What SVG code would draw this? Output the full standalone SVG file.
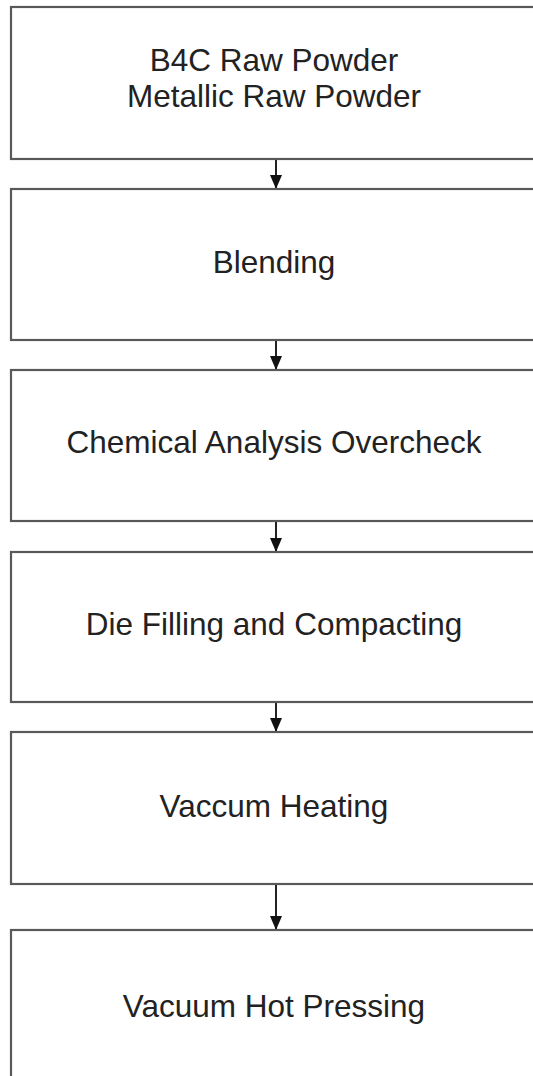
<svg xmlns="http://www.w3.org/2000/svg" width="533" height="1076" viewBox="0 0 533 1076">
<defs>
<style>
.box{fill:#fff;stroke:#595959;stroke-width:2.2}
.lbl{font-family:"Liberation Sans",Arial,sans-serif;font-size:31.5px;fill:#222;text-anchor:middle}
.conn{stroke:#222;stroke-width:2;fill:none}
</style>
<marker id="arr" viewBox="0 0 14 12" markerWidth="14" markerHeight="12" refX="14" refY="6" orient="auto" markerUnits="userSpaceOnUse">
<path d="M0,0 L14,6 L0,12 z" fill="#111"/>
</marker>
</defs>
<rect width="533" height="1076" fill="#fff"/>
<g id="connectors">
<line class="conn" x1="276" y1="159" x2="276" y2="189" marker-end="url(#arr)"/>
<line class="conn" x1="276" y1="340" x2="276" y2="370" marker-end="url(#arr)"/>
<line class="conn" x1="276" y1="521" x2="276" y2="552" marker-end="url(#arr)"/>
<line class="conn" x1="276" y1="702" x2="276" y2="732" marker-end="url(#arr)"/>
<line class="conn" x1="276" y1="884" x2="276" y2="930" marker-end="url(#arr)"/>
</g>
<g id="n1">
<rect class="box" x="11" y="7" width="530" height="152"/>
<text class="lbl" x="274" y="71">B4C Raw Powder</text>
<text class="lbl" x="274" y="107">Metallic Raw Powder</text>
</g>
<g id="n2">
<rect class="box" x="11" y="189" width="530" height="151"/>
<text class="lbl" x="274" y="273">Blending</text>
</g>
<g id="n3">
<rect class="box" x="11" y="370" width="530" height="151"/>
<text class="lbl" x="274" y="453">Chemical Analysis Overcheck</text>
</g>
<g id="n4">
<rect class="box" x="11" y="552" width="530" height="150"/>
<text class="lbl" x="274" y="635">Die Filling and Compacting</text>
</g>
<g id="n5">
<rect class="box" x="11" y="732" width="530" height="152"/>
<text class="lbl" x="274" y="817">Vaccum Heating</text>
</g>
<g id="n6">
<rect class="box" x="11" y="930" width="530" height="170"/>
<text class="lbl" x="274" y="1017">Vacuum Hot Pressing</text>
</g>
</svg>
